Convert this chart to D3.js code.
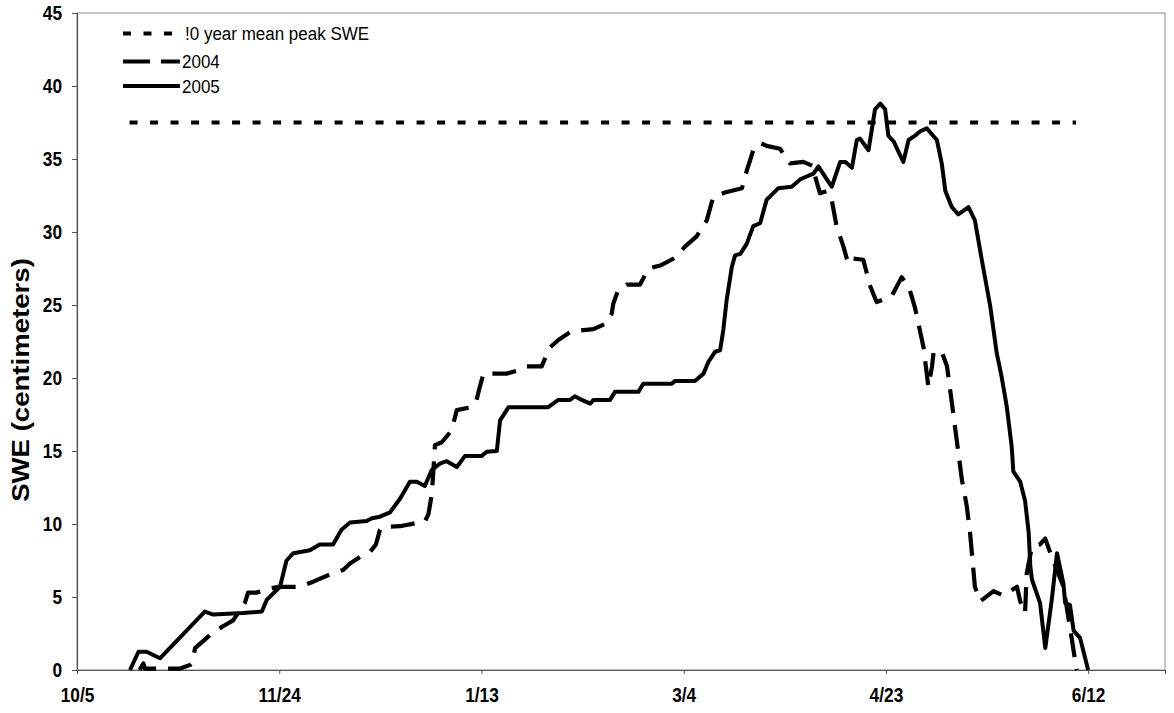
<!DOCTYPE html>
<html>
<head>
<meta charset="utf-8">
<script src="https://cdn.jsdelivr.net/npm/d3@7"></script>
<style>
  body { margin: 0; background: #fff; }
  svg { display: block; }
  text { font-family: "Liberation Sans", Arial, sans-serif; fill: #000; }
</style>
</head>
<body>
<div id="chart"></div>
<script>
// dias contados a partir de 10/5
var tickDays = [0, 50, 100, 150, 200, 250];
var tickLabels = ["10/5", "11/24", "1/13", "3/4", "4/23", "6/12"];
var yTicks = [0, 5, 10, 15, 20, 25, 30, 35, 40, 45];
var legendNames = ["!0 year mean peak SWE", "2004", "2005"];

// media de 10 anos do pico
var meanDays = [13, 247];
var meanSwe = [37.5, 37.5];

// 2004 (tracejado)
var days2004 = [15.5, 16.4, 16.8, 25.5, 28, 28.4, 29.2, 32.9, 36.1, 38.6, 39.8, 41.5, 42.3, 44.4, 48, 50, 55,
  58.4, 63, 65.8, 67.5, 70, 72.5, 73.9, 74.9, 75.7, 79.9, 83.6, 86, 86.9, 87.7, 88.1, 88.5, 90.2, 92.6, 93.9,
  97.6, 98.8, 99.5, 100.5, 106.2, 109.5, 111.2, 114.9, 116.1, 117, 119, 122.3, 127.7, 131, 132.2, 132.6, 133.9,
  135.9, 139.2, 141.3, 144.2, 148.3, 150.3, 153.2, 155.7, 157.3, 160.2, 164.4, 165.6, 167.2, 168.9, 170.5,
  173.8, 176.3, 179.6, 182.1, 182.5, 183.7, 185.4, 186.6, 187.8, 189.5, 190.3, 190.7, 191.1, 194.4, 196.1,
  197.7, 201.4, 203.9, 205.6, 207.2, 209.3, 210.5, 211.4, 211.8, 213.8, 215.1, 216.3, 217.5, 218.8, 220,
  220.8, 222, 223.3, 226.6, 229, 232.4, 233.2, 234.4, 234.8, 236.1, 238.1, 239.4, 241, 243.9, 246, 246.8, 247.2];
var swe2004 = [0, 0.45, 0.1, 0.1, 0.35, 0.45, 1.5, 2.4, 3.0, 3.4, 3.9, 4.6, 5.3, 5.3, 5.6, 5.7, 5.7,
  6.05, 6.6, 6.85, 7.3, 7.75, 8.1, 8.6, 9.6, 9.8, 9.85, 10.05, 10.15, 10.7, 12.0, 13.6, 15.4, 15.6, 16.4, 17.8,
  18.0, 18.5, 19.3, 20.3, 20.3, 20.55, 20.8, 20.8, 21.6, 22.1, 22.6, 23.2, 23.35, 23.75, 24.4, 25.1, 26.1,
  26.4, 26.4, 27.5, 27.7, 28.3, 29.0, 29.7, 30.8, 32.4, 32.7, 33.0, 34.2, 35.6, 36.1, 35.9,
  35.7, 34.7, 34.8, 34.5, 33.8, 32.65, 32.8, 32.2, 30.4, 29.0, 28.2, 27.9, 28.2, 28.1, 26.3,
  25.2, 25.6, 26.9, 26.3, 24.8, 22.1, 19.4, 20.8, 21.8, 21.8, 20.8, 18.3, 15.75, 13.0, 11.2,
  9.4, 5.7, 4.7, 5.4, 5.1, 5.7, 4.7, 3.9, 6.6, 8.45, 8.6, 9.0, 7.75, 5.7, 2.05, 0.6, 0];

// 2005 (linha cheia)
var days2005 = [13.1, 15.2, 17.2, 20.5, 31.6, 33.7, 41, 45.7, 46.9, 50.2, 51.8, 53.5, 57.6, 60, 63.3, 65.4,
  67.5, 71.6, 72.9, 74.9, 77.4, 79.9, 82.3, 84, 86, 87.7, 89.8, 91.4, 93.9, 95.9, 100, 101.3, 103.8, 104.6,
  106.7, 116.5, 119, 121.9, 123.1, 124.8, 126.9, 127.7, 131.8, 133, 138.8, 140, 147, 147.9, 152.8, 154.9,
  156.1, 157.8, 159, 159.8, 160.6, 161.9, 162.7, 164, 165.6, 167.2, 168.9, 170.5, 173.4, 176.7, 178.8,
  180.4, 182.1, 183.3, 185.4, 186.6, 188.7, 190, 191.6, 192.8, 193.6, 195.7, 197.3, 198.6, 199.8, 200.6,
  201.9, 204.3, 205.6, 207.2, 208.5, 210.1, 212.6, 213.8, 214.7, 216.3, 217.9, 220.4, 222, 223.7, 225.8,
  227.4, 228.6, 229.9, 231.1, 231.5, 233.2, 234.4, 235.3, 235.7, 236.1, 238.1, 239.4, 241, 242.3, 243.9,
  244.3, 245.5, 246.4, 248, 250];
var swe2005 = [0, 1.25, 1.25, 0.8, 4.0, 3.8, 3.9, 4.0, 4.8, 5.7, 7.5, 8.0, 8.2, 8.6, 8.6, 9.6,
  10.1, 10.2, 10.4, 10.5, 10.8, 11.75, 12.9, 12.9, 12.6, 13.7, 14.15, 14.3, 13.9, 14.65, 14.65, 14.95, 15.0, 17.1,
  18.0, 18.0, 18.5, 18.5, 18.75, 18.5, 18.25, 18.5, 18.5, 19.05, 19.05, 19.6, 19.6, 19.8, 19.8, 20.3,
  21.1, 21.8, 21.9, 23.3, 25.3, 27.6, 28.4, 28.5, 29.2, 30.4, 30.6, 32.2, 33.0, 33.1, 33.6,
  33.8, 34.0, 34.5, 33.6, 33.1, 34.8, 34.8, 34.4, 36.3, 36.4, 35.6, 38.4, 38.8, 38.4, 36.6,
  36.2, 34.8, 36.3, 36.6, 36.9, 37.1, 36.3, 34.7, 32.8, 31.7, 31.2, 31.7, 30.8, 28.1, 24.9,
  21.7, 20.1, 18.0, 15.3, 13.6, 12.9, 11.6, 9.4, 7.1, 6.2, 4.6, 1.5, 4.8, 8.0, 5.9,
  4.6, 4.45, 2.7, 2.2, 0];

var width = 1174, height = 713;
var plotLeft = 77, plotRight = 1165, plotTop = 13, plotBottom = 670;

var svg = d3.select("#chart").append("svg")
    .attr("width", width)
    .attr("height", height);

var x = d3.scaleLinear().domain([0, 269]).range([plotLeft, plotRight]);
var y = d3.scaleLinear().domain([0, 45]).range([plotBottom, plotTop]);

//moldura da area do grafico
svg.append("rect")
    .attr("x", plotLeft)
    .attr("y", plotTop)
    .attr("width", plotRight - plotLeft)
    .attr("height", plotBottom - plotTop)
    .attr("fill", "none")
    .attr("stroke", "#8a8a8a")
    .attr("stroke-width", 1);

//eixos
var xAxis = svg.append("g")
    .attr("transform", "translate(0," + plotBottom + ")")
    .call(d3.axisBottom(x).tickValues(tickDays)
        .tickFormat(function(d, i) { return tickLabels[i]; })
        .tickSize(4).tickPadding(10));

var yAxis = svg.append("g")
    .attr("transform", "translate(" + plotLeft + ",0)")
    .call(d3.axisLeft(y).tickValues(yTicks).tickSize(5).tickPadding(10));

[xAxis, yAxis].forEach(function(g) {
    g.select(".domain").attr("stroke", "#555").attr("stroke-width", 1.2);
    g.selectAll(".tick line").attr("stroke", "#555");
    g.selectAll(".tick text")
        .attr("font-size", "17.3px")
        .attr("font-weight", "bold")
        .attr("fill", "#000")
        .attr("transform", "scale(1,1.2)");
});

svg.append("text")
    .attr("transform", "translate(29,380) rotate(-90) scale(1.2,1)")
    .attr("text-anchor", "middle")
    .attr("font-size", "23px")
    .attr("font-weight", "bold")
    .text("SWE (centimeters)");

//linhas
function toPoints(days, vals) {
    return days.map(function(d, i) { return [d, vals[i]]; });
}

var line = d3.line()
    .x(function(d) { return x(d[0]); })
    .y(function(d) { return y(d[1]); });

svg.append("path")
    .datum(toPoints(meanDays, meanSwe))
    .attr("d", line)
    .attr("fill", "none")
    .attr("stroke", "#000")
    .attr("stroke-width", 4)
    .attr("stroke-dasharray", "8,12.5");

svg.append("path")
    .datum(toPoints(days2004, swe2004))
    .attr("d", line)
    .attr("fill", "none")
    .attr("stroke", "#000")
    .attr("stroke-width", 4.2)
    .attr("stroke-linejoin", "round")
    .attr("stroke-dasharray", "24,12");

svg.append("path")
    .datum(toPoints(days2005, swe2005))
    .attr("d", line)
    .attr("fill", "none")
    .attr("stroke", "#000")
    .attr("stroke-width", 4)
    .attr("stroke-linejoin", "round");

//legenda
var legendRows = [
    {y: 33.5, x1: 123, x2: 174, tx: 185, dash: "8,12.5"},
    {y: 61.5, x1: 123, x2: 180, tx: 182, dash: "27,11"},
    {y: 86, x1: 123, x2: 180, tx: 182, dash: null}
];

legendRows.forEach(function(r, i) {
    svg.append("line")
        .attr("x1", r.x1).attr("x2", r.x2)
        .attr("y1", r.y).attr("y2", r.y)
        .attr("stroke", "#000")
        .attr("stroke-width", 4)
        .attr("stroke-dasharray", r.dash);
    svg.append("text")
        .attr("transform", "translate(" + r.tx + "," + r.y + ") scale(1,1.13)")
        .attr("dy", "0.36em")
        .attr("font-size", "17px")
        .text(legendNames[i]);
});
</script>
</body>
</html>
